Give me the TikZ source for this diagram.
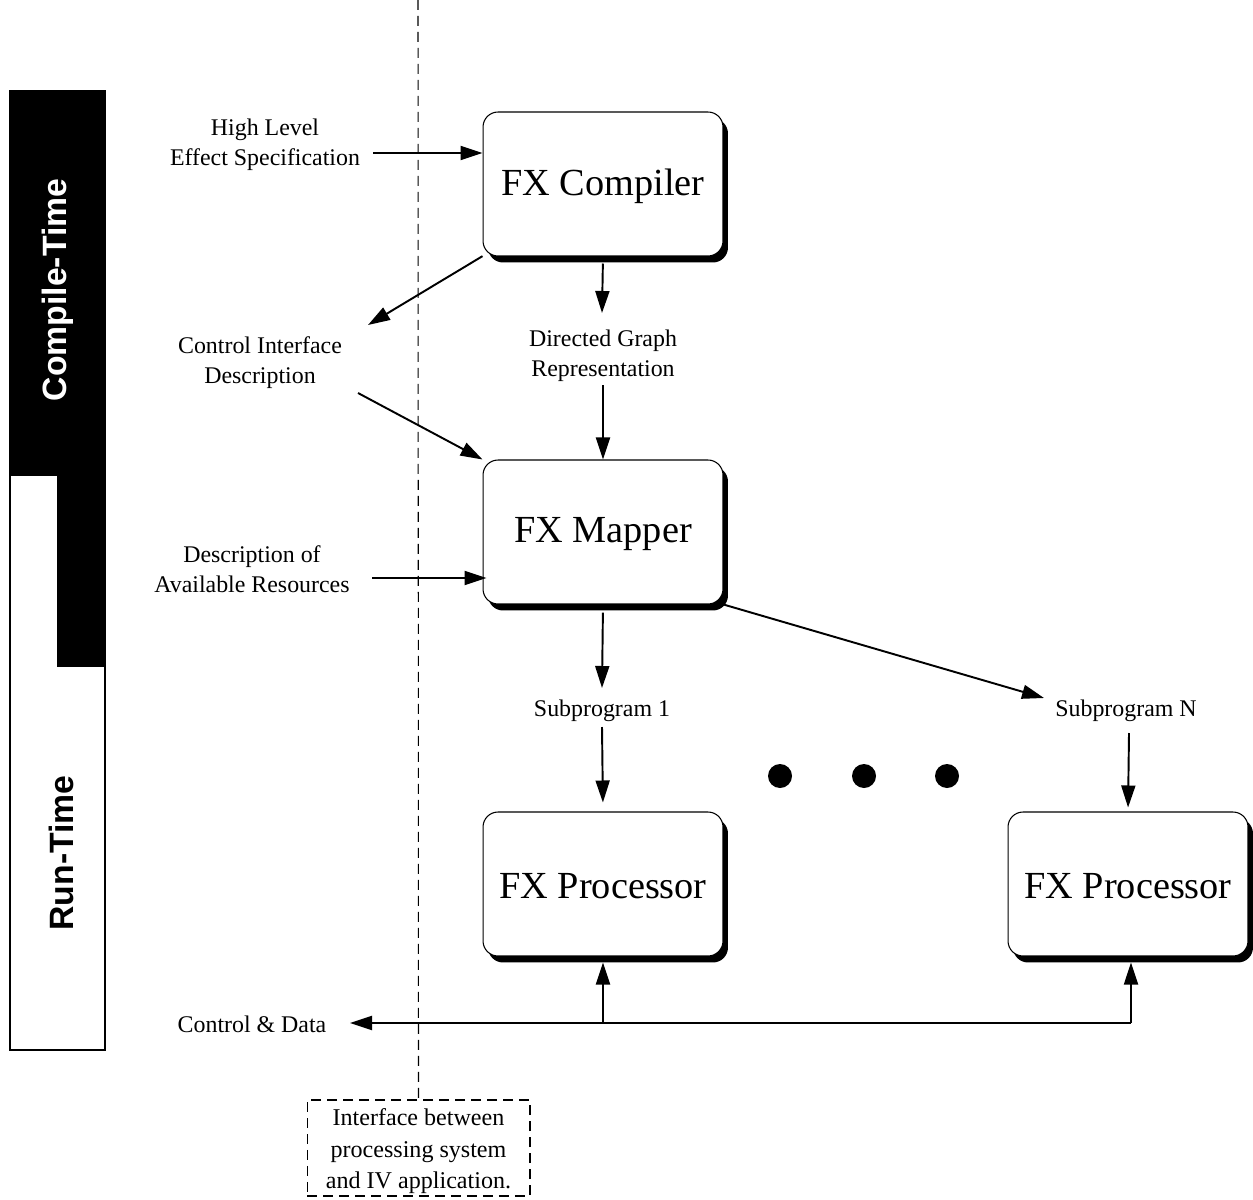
\documentclass[tikz,border=0pt]{standalone}
\usepackage{fontspec}
\setmainfont{Liberation Serif}
\setsansfont{Liberation Sans}
\usetikzlibrary{arrows.meta,shadows,calc}

\newcommand{\lowered}[2]{\raisebox{-#1}[\height][\depth]{#2}}

\begin{document}
\begin{tikzpicture}[x=0.02cm,y=-0.02cm,
  fxbox/.style={draw=black, line width=0.6pt, fill=white, rounded corners=0.3cm,
    minimum width=4.8cm, minimum height=2.88cm, inner sep=0,
    font=\fontsize{21.8}{26}\selectfont,
    drop shadow={shadow xshift=0.1cm, shadow yshift=-0.13cm, fill=black, opacity=1}},
  lbl/.style={font=\fontsize{13.6}{17}\selectfont, align=center, inner sep=0},
  barlbl/.style={font=\sffamily\bfseries\fontsize{19.2}{22}\selectfont, rotate=90, inner sep=0},
  arr/.style={line width=1.1pt, -{Triangle[length=0.44cm,width=0.28cm]}},
  ln/.style={line width=1.1pt},
  fxdot/.style={circle, fill=black, minimum size=0.48cm, inner sep=0},
  sep/.style={line width=0.6pt, dash pattern=on 0.2cm off 0.12cm}
]
\path[use as bounding box] (0,0) rectangle (1253,1199);

% phase bar on the left
\fill (10,91) rectangle (105,476);
\fill (57,476) rectangle (105,667);
\draw[line width=0.6pt] (10,91) rectangle (105,1050);
\node[barlbl, text=white] (ct) at (58,290) {Compile-Time};
\node[barlbl] (rt) at (61,853) {Run-Time};

% processing stages
\node[fxbox] (comp) at (603,184) {\lowered{1.3pt}{FX Compiler}};
\node[fxbox] (map) at (603,532) {\lowered{1.3pt}{FX Mapper}};
\node[fxbox] (proc1) at (603,884) {\lowered{1.3pt}{FX Processor}};
\node[fxbox] (proc2) at (1128,884) {\lowered{1.3pt}{FX Processor}};

\node[fxdot] (d1) at (780,776) {};
\node[fxdot] (d2) at (864,776) {};
\node[fxdot] (d3) at (947,776) {};

% labels
\node[lbl] (hl) at (265,145) {High Level\\Effect Specification};
\node[lbl] (ci) at (260,363) {Control Interface\\Description};
\node[lbl] (dg) at (603,356) {Directed Graph\\Representation};
\node[lbl] (res) at (252,569) {Description of\\Available Resources};
\node[lbl] (s1) at (602,711) {Subprogram 1};
\node[lbl] (sN) at (1126,711) {Subprogram N};
\node[lbl] (cd) at (252,1024) {Control \& Data};

% interface separator
\node[draw, sep, lbl, minimum width=4.46cm, minimum height=1.92cm,
  font=\fontsize{13.7}{17.9}\selectfont] (iface) at (418.5,1148)
  {\lowered{1.8pt}{\parbox{4.3cm}{\centering Interface between\\processing system\\and IV application.}}};
\coordinate (vT) at (418,0);
\draw[sep] (vT) -- (iface.north);

% connector end points
\coordinate (hlA) at (373,153);
\coordinate (ciIn) at (368,325);
\coordinate (dgT) at (602,313);
\coordinate (dgB) at (603,385);
\coordinate (ciB) at (358,393);
\coordinate (resA) at (372,578);
\coordinate (s1T) at (602,688);
\coordinate (s1B) at (602,727);
\coordinate (sNT) at (1044,698);
\coordinate (sNB) at (1129,733);
\coordinate (cdA) at (350,1023);
\coordinate (bus1) at (603,1023);
\coordinate (bus2) at (1131,1023);

% connectors
\draw[arr] (hlA) -- (comp.west |- hlA);
\draw[arr] (comp) -- (ciIn);
\draw[arr, shorten <=0.14cm] (comp.south) -- (dgT);
\draw[arr] (dgB) -- (map.north);
\draw[arr] (ciB) -- (map.north west);
\draw[arr, shorten >=-0.08cm] (resA) -- (map.west |- resA);
\draw[arr, shorten <=0.16cm] (map.south) -- (s1T);
\draw[arr, shorten >=0.18cm] (s1B) -- (proc1.north);
\draw[arr] (map.south east) -- (sNT);
\draw[arr, shorten >=0.08cm] (sNB) -- (proc2.north);
\draw[ln] (bus2) -- (bus1);
\draw[arr] (bus1) -- (cdA);
\draw[arr, shorten >=0.12cm] (bus1) -- (proc1.south);
\draw[arr, shorten >=0.12cm] (bus2) -- (bus2 |- proc2.south);
\end{tikzpicture}
\end{document}
